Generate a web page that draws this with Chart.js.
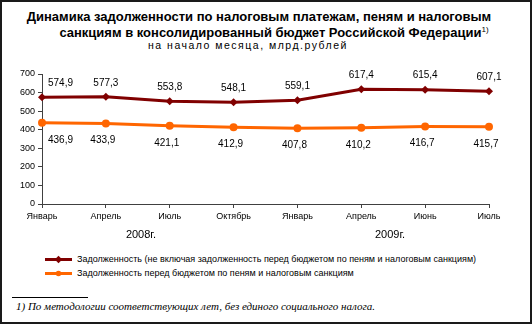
<!DOCTYPE html>
<html lang="ru">
<head>
<meta charset="UTF-8">
<title>Динамика задолженности по налоговым платежам</title>
<style>
    html, body { margin: 0; padding: 0; background: #fff; }
    body { font-family: "Liberation Sans", Arial, sans-serif; color: #000; }
    .frame {
        position: relative;
        width: 532px;
        height: 324px;
        box-sizing: border-box;
        border: 2px solid #1a1a1a;
        overflow: hidden;
    }
    .frame canvas { position: absolute; left: -2px; top: 53px; }
    .t {
        position: absolute;
        white-space: nowrap;
        transform: translate(-50%, -50%);
    }
    .title { font-weight: bold; font-size: 13px; }
    .title sup { font-size: 8px; font-weight: normal; vertical-align: 5px; line-height: 0; }
    .sub { font-size: 10.5px; letter-spacing: 1.5px; }
    .legend { position: absolute; left: 43px; font-size: 9px; white-space: nowrap; }
    .legend .item { position: relative; height: 14px; line-height: 14px; padding-left: 32px; }
    .legend .line { position: absolute; left: 0; top: 6px; width: 27px; height: 3px; }
    .legend .mark { position: absolute; left: 10px; top: 4px; width: 7px; height: 7px; }
    .note-line { position: absolute; left: 10px; top: 295px; width: 76px; height: 1px; background: #000; }
    .note {
        position: absolute; left: 14px; top: 298px;
        font-family: "Liberation Serif", "Times New Roman", serif;
        font-style: italic; font-size: 11px; white-space: nowrap;
    }
</style>
</head>
<body>
<div class="frame">
    <div class="t title" style="left:257px; top:14px;">Динамика задолженности по налоговым платежам, пеням и налоговым</div>
    <div class="t title" style="left:272px; top:30px;">санкциям в консолидированный бюджет Российской Федерации<sup>1)</sup></div>
    <div class="t sub" style="left:246px; top:43px;">на начало месяца, млрд.рублей</div>

    <canvas id="chart" width="532" height="190"></canvas>

    <div class="legend" style="top:250px;">
        <div class="item"><span class="line" style="background:#800000"></span><span class="mark" style="background:#800000; transform:rotate(45deg) scale(0.75);"></span>Задолженность (не включая задолженность перед бюджетом по пеням и налоговым санкциям)</div>
        <div class="item"><span class="line" style="background:#ff6600"></span><span class="mark" style="background:#ff6600; border-radius:50%; transform:scale(0.8);"></span>Задолженность перед бюджетом по пеням и налоговым санкциям</div>
    </div>

    <div class="note-line"></div>
    <div class="note">1) По методологии соответствующих лет, без единого социального налога.</div>
</div>

<script src="https://cdn.jsdelivr.net/npm/chart.js"></script>
<script>
    // месяцы (на начало месяца), 2008-2009 гг.
    const months = ['Январь', 'Апрель', 'Июль', 'Октябрь', 'Январь', 'Апрель', 'Июнь', 'Июль'];
    const debtMain = [574.9, 577.3, 553.8, 548.1, 559.1, 617.4, 615.4, 607.1];
    const debtPenalty = [436.9, 433.9, 421.1, 412.9, 407.8, 410.2, 416.7, 415.7];
    const yearLabels = ['2008г.', '2009г.'];
    const yearAt = [1.55, 5.45]; // позиция подписи года в долях индекса месяца
    const yTicks = [0, 100, 200, 300, 400, 500, 600, 700];

    const FONT = '"Liberation Sans", Arial, sans-serif';
    const fmt = v => v.toFixed(1).replace('.', ',');

    // подписи значений над / под точками и подписи годов под осью
    const labelsPlugin = {
        id: 'valueLabels',
        afterDatasetsDraw(chart) {
            const ctx = chart.ctx;
            ctx.save();
            ctx.font = '10px ' + FONT;
            ctx.fillStyle = '#000';
            ctx.textBaseline = 'middle';
            chart.data.datasets.forEach((ds, i) => {
                const meta = chart.getDatasetMeta(i);
                const dy = i === 0 ? -14 : 17;
                meta.data.forEach((pt, j) => {
                    ctx.textAlign = j === 0 ? 'left' : 'center';
                    const x = j === 0 ? pt.x + 6 : pt.x - (i === 1 ? 3 : 0);
                    ctx.fillText(fmt(ds.data[j]), x, pt.y + dy);
                });
            });
            const xs = chart.scales.x;
            ctx.font = '11px ' + FONT;
            ctx.textAlign = 'center';
            yearLabels.forEach((t, k) => {
                ctx.fillText(t, xs.getPixelForValue(yearAt[k]), xs.top + 31);
            });
            ctx.restore();
        }
    };

    new Chart(document.getElementById('chart'), {
        type: 'line',
        data: {
            labels: months,
            datasets: [
                {
                    label: 'Задолженность (не включая задолженность перед бюджетом по пеням и налоговым санкциям)',
                    data: debtMain,
                    borderColor: '#800000',
                    backgroundColor: '#800000',
                    borderWidth: 3,
                    pointStyle: 'rectRot',
                    pointRadius: 4,
                    pointBorderWidth: 0,
                    tension: 0
                },
                {
                    label: 'Задолженность перед бюджетом по пеням и налоговым санкциям',
                    data: debtPenalty,
                    borderColor: '#ff6600',
                    backgroundColor: '#ff6600',
                    borderWidth: 3,
                    pointStyle: 'circle',
                    pointRadius: 4,
                    pointBorderWidth: 0,
                    tension: 0
                }
            ]
        },
        options: {
            responsive: false,
            animation: false,
            devicePixelRatio: 1,
            layout: { padding: { left: 0, right: 43, top: 19, bottom: 0 } },
            plugins: {
                legend: { display: false },
                title: { display: false },
                tooltip: { enabled: false }
            },
            scales: {
                x: {
                    offset: false,
                    afterFit(scale) { scale.height = 41; },
                    border: { color: '#404040', width: 1 },
                    grid: { offset: false, drawOnChartArea: false, drawTicks: true, tickLength: 4, color: '#404040' },
                    ticks: { color: '#000', font: { family: FONT, size: 9 }, padding: 3, maxRotation: 0, autoSkip: false }
                },
                y: {
                    min: 0,
                    max: 700,
                    afterFit(scale) { scale.width = 42; },
                    afterBuildTicks(scale) { scale.ticks = yTicks.map(v => ({ value: v })); },
                    border: { color: '#404040', width: 1 },
                    grid: { drawOnChartArea: false, drawTicks: true, tickLength: 4, color: '#404040' },
                    ticks: { color: '#000', font: { family: FONT, size: 9 }, padding: 3 }
                }
            }
        },
        plugins: [labelsPlugin]
    });
</script>
</body>
</html>
